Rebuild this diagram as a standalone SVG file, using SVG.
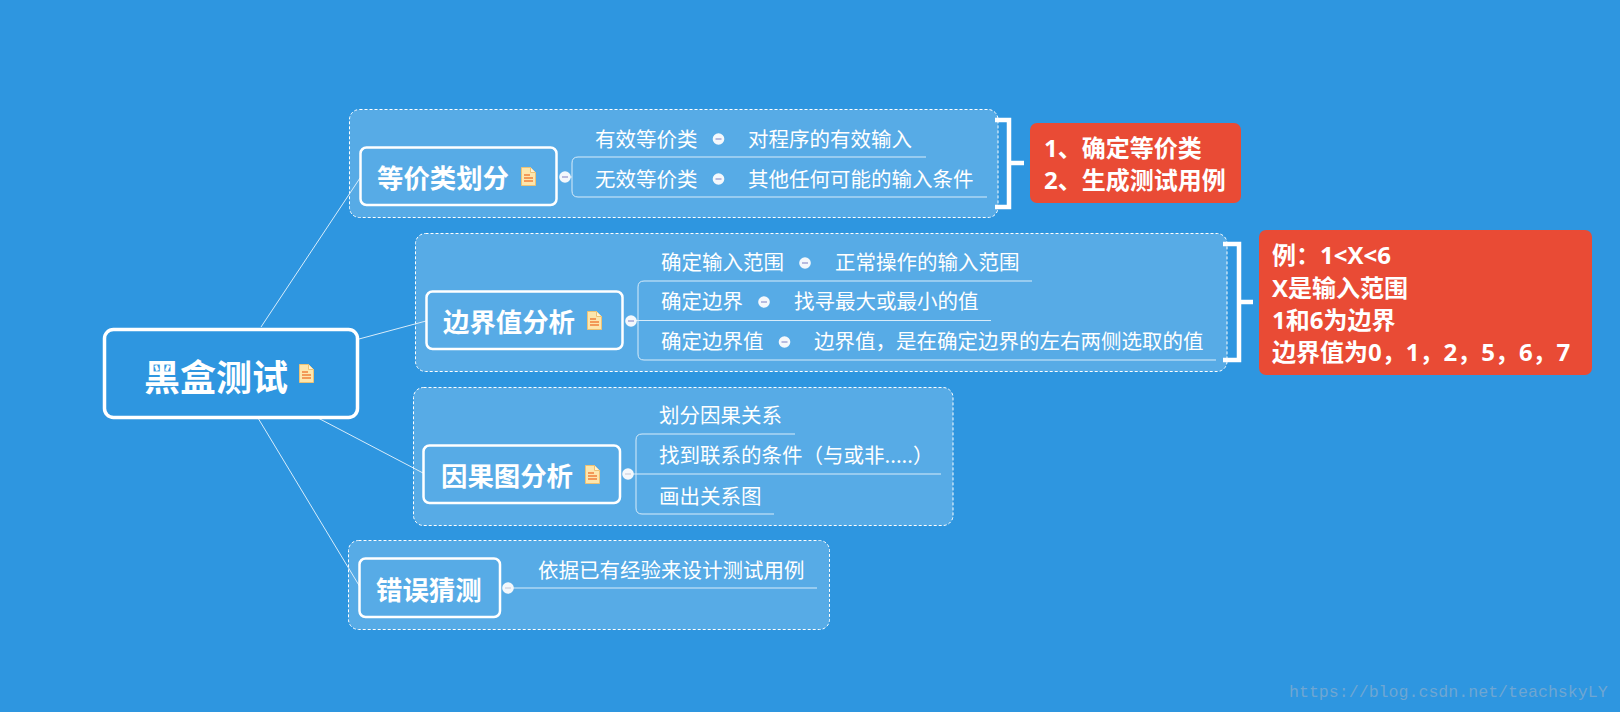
<svg xmlns="http://www.w3.org/2000/svg" width="1620" height="712" viewBox="0 0 1620 712">
<style>
text{font-family:"Noto Sans CJK SC","Noto Sans",sans-serif;fill:#fff}
.zone{fill:#57abe6;stroke:#fff;stroke-width:1;stroke-dasharray:3 2}
.main{fill:#57abe6;stroke:#fff;stroke-width:2.500}
.t1{font-size:26.400px;font-weight:700}
.t2{font-size:20.500px;font-weight:400}
.t3{font-size:24px;font-weight:700;font-family:"Open Sans","Noto Sans CJK SC",sans-serif}
.conn{fill:none;stroke:#d8ecfa;stroke-width:1}
.sub{fill:none;stroke:#d8ecfa;stroke-width:1}
.brk{fill:none;stroke:#fff;stroke-width:4.500}
.call{fill:#e94b35}
</style>
<defs>
<g id="note"><path d="M0.500 0.500H9.500L14.500 5.500V18.500H0.500Z" fill="#fde6ad" stroke="#eec274" stroke-width="1"/><path d="M9.500 0.500V5.500H14.500" fill="#fff3d4" stroke="#eec274" stroke-width="1"/><path d="M3 8H9M3 11H12M3 14H12" stroke="#f0803c" stroke-width="1.300" fill="none"/></g>
<g id="col"><circle r="5.800" fill="#f4f8fc"/><path d="M-3 0H3" stroke="#a5a7d6" stroke-width="1.500"/></g>
<g id="col2"><circle r="5.800" fill="#f4f8fc"/><path d="M-3 0H3" stroke="#d5d8e4" stroke-width="1.500"/></g>
</defs>
<rect width="1620" height="712" fill="#2e96e0"/>
<g id="zones">
<rect class="zone" x="349.500" y="109.500" width="648.500" height="108" rx="10"/>
<rect class="zone" x="415.500" y="233.500" width="811.500" height="138" rx="10"/>
<rect class="zone" x="413.500" y="387.500" width="539.500" height="138" rx="10"/>
<rect class="zone" x="348.500" y="540.500" width="481" height="89" rx="10"/>
</g>
<g id="connectors">
<path class="conn" d="M261 327L360 178M359 339L426 321M318 418L423 473M258 418L360 587"/>
<path class="sub" d="M565 177H572M926 157H578Q572 157 572 163V191Q572 197 578 197H987"/>
<path class="sub" d="M631 320.500H638M1032 281H644Q638 281 638 287V354Q638 360 644 360H1216M638 320.500H991"/>
<path class="sub" d="M628 474H636M795 434H642Q636 434 636 440V508Q636 514 642 514H774M636 474H941"/>
<path class="sub" d="M508 588H817"/>
</g>
<g id="root"><rect x="104.500" y="329.500" width="253" height="88" rx="9" fill="#2e96e0" stroke="#fff" stroke-width="3.500"/><text x="144" y="391" font-size="36" font-weight="700">黑盒测试</text><use href="#note" x="299" y="364"/></g>
<g id="n1"><rect class="main" x="360.500" y="147.500" width="196" height="57.500" rx="6"/><text class="t1" x="377" y="188">等价类划分</text><use href="#note" x="521" y="167"/><use href="#col" x="565" y="177"/></g>
<g id="n1a"><text class="t2" x="595" y="147">有效等价类</text><use href="#col" x="718.500" y="139"/><text class="t2" x="748" y="147">对程序的有效输入</text></g>
<g id="n1b"><text class="t2" x="595" y="187">无效等价类</text><use href="#col" x="718.500" y="179"/><text class="t2" x="748" y="187">其他任何可能的输入条件</text></g>
<g id="c1"><path class="brk" d="M995 120H1009V207H995M1009 163H1024"/><rect class="call" x="1030" y="123" width="211" height="80" rx="7"/><text class="t3" x="1044" y="157">1、确定等价类</text><text class="t3" x="1044" y="189">2、生成测试用例</text></g>
<g id="n2"><rect class="main" x="426.500" y="291.500" width="196" height="57.500" rx="6"/><text class="t1" x="443" y="332">边界值分析</text><use href="#note" x="587" y="311"/><use href="#col" x="631" y="321"/></g>
<g id="n2a"><text class="t2" x="661" y="270">确定输入范围</text><use href="#col" x="805" y="263"/><text class="t2" x="835" y="270">正常操作的输入范围</text></g>
<g id="n2b"><text class="t2" x="661" y="309">确定边界</text><use href="#col" x="764" y="302"/><text class="t2" x="794" y="309">找寻最大或最小的值</text></g>
<g id="n2c"><text class="t2" x="661" y="349">确定边界值</text><use href="#col" x="784.500" y="342"/><text class="t2" x="814" y="349">边界值，是在确定边界的左右两侧选取的值</text></g>
<g id="c2"><path class="brk" d="M1223 244H1239V360H1223M1239 302H1253"/><rect class="call" x="1259" y="230" width="333" height="145" rx="7"/><text class="t3" x="1272" y="264">例：1&lt;X&lt;6</text><text class="t3" x="1272" y="297">X是输入范围</text><text class="t3" x="1272" y="329">1和6为边界</text><text class="t3" x="1272" y="361">边界值为0，1，2，5，6，7</text></g>
<g id="n3"><rect class="main" x="423.500" y="445.500" width="196.500" height="57.500" rx="6"/><text class="t1" x="441" y="486">因果图分析</text><use href="#note" x="585" y="465"/><use href="#col2" x="628" y="474"/></g>
<g id="n3a"><text class="t2" x="659" y="423">划分因果关系</text></g>
<g id="n3b"><text class="t2" x="659" y="463">找到联系的条件（与或非.....）</text></g>
<g id="n3c"><text class="t2" x="659" y="504">画出关系图</text></g>
<g id="n4"><rect class="main" x="359.500" y="558.500" width="140.500" height="58.500" rx="6"/><text class="t1" x="376" y="600">错误猜测</text><use href="#col2" x="508" y="588"/></g>
<g id="n4a"><text class="t2" x="538" y="578">依据已有经验来设计测试用例</text></g>
<text x="1289" y="697" font-size="16.600" style="font-family:'Liberation Mono',monospace;fill:#6fa6d2">https://blog.csdn.net/teachskyLY</text>
</svg>
